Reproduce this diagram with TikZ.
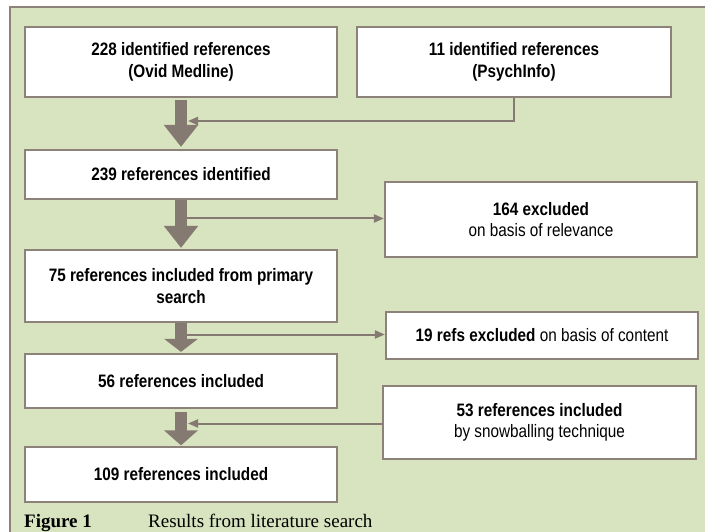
\documentclass[tikz,border=0pt]{standalone}
\usepackage{fontspec}
\setmainfont{Liberation Sans}[FakeStretch=0.85]
\newfontfamily\capfont{Liberation Serif}
\usetikzlibrary{arrows.meta}
\definecolor{bggreen}{HTML}{D8E3BF}
\definecolor{edgegray}{HTML}{8C8279}
\definecolor{arrowgray}{HTML}{857A72}
\tikzset{
  box/.style={draw=edgegray, line width=2.2pt, fill=white, inner sep=0pt, align=center,
              font=\fontsize{18}{21.5}\selectfont},
  bigarrow/.style={draw=arrowgray, line width=12pt,
              -{Triangle[width=33pt,length=#1]}},
  thinarrow/.style={draw=arrowgray, line width=2pt, -{Triangle[width=8pt,length=10pt]}},
}
\begin{document}
\begin{tikzpicture}[x=1pt,y=-1pt]
\useasboundingbox (0,0) rectangle (705,532);
\fill[white] (0,0) rectangle (705,532);
\draw[edgegray, line width=1.5pt, fill=bggreen] (10,7) rectangle (715,545);
% boxes
\node[box, minimum width=312pt, minimum height=70pt] (b1) at (181,62)
  {\textbf{228 identified references}\\\textbf{(Ovid Medline)}};
\node[box, minimum width=314pt, minimum height=70pt] (b2) at (514,62)
  {\textbf{11 identified references}\\\textbf{(PsychInfo)}};
\node[box, minimum width=312pt, minimum height=49pt] (b3) at (181,174.5)
  {\textbf{239 references identified}};
\node[box, minimum width=312pt, minimum height=72pt] (b4) at (181,286)
  {\textbf{75 references included from primary}\\\textbf{search}};
\node[box, minimum width=312pt, minimum height=54pt] (b5) at (181,381)
  {\textbf{56 references included}};
\node[box, minimum width=312pt, minimum height=55pt] (b6) at (181,474.5)
  {\textbf{109 references included}};
\node[box, minimum width=312pt, minimum height=75pt] (e1) at (541,219.5)
  {\textbf{164 excluded}\\on basis of relevance};
\node[box, minimum width=312pt, minimum height=47pt] (e2) at (542,335.5)
  {\textbf{19 refs excluded} on basis of content};
\node[box, minimum width=313pt, minimum height=73pt] (e3) at (539.5,422.5)
  {\textbf{53 references included}\\by snowballing technique};
% main flow arrows
\draw[bigarrow=22pt, shorten <=2pt, shorten >=2pt] (b1.south) -- (b3.north);
\draw[bigarrow=22pt, shorten >=1pt] (b3.south) -- (b4.north);
\draw[bigarrow=13pt, shorten >=1pt] (b4.south) -- (b5.north);
\draw[bigarrow=15pt, shorten <=3pt, shorten >=0.5pt] (b5.south) -- (b6.north);
% side connectors
\coordinate (j1) at (188,121);
\coordinate (j2) at (187,218.5);
\coordinate (j3) at (187,334.5);
\coordinate (j4) at (188,423.5);
\draw[thinarrow] (b2.south) |- (j1);
\draw[thinarrow] (j2) -- (j2 -| e1.west);
\draw[thinarrow] (j3) -- (j3 -| e2.west);
\draw[thinarrow] (j4 -| e3.west) -- (j4);
% caption
\node[anchor=base west, inner sep=0pt, font=\capfont\fontsize{19}{22}\selectfont\bfseries] (cap1) at (24,527) {Figure 1};
\node[anchor=base west, inner sep=0pt, font=\capfont\fontsize{19}{22}\selectfont] (cap2) at (148,527) {Results from literature search};
\end{tikzpicture}
\end{document}
